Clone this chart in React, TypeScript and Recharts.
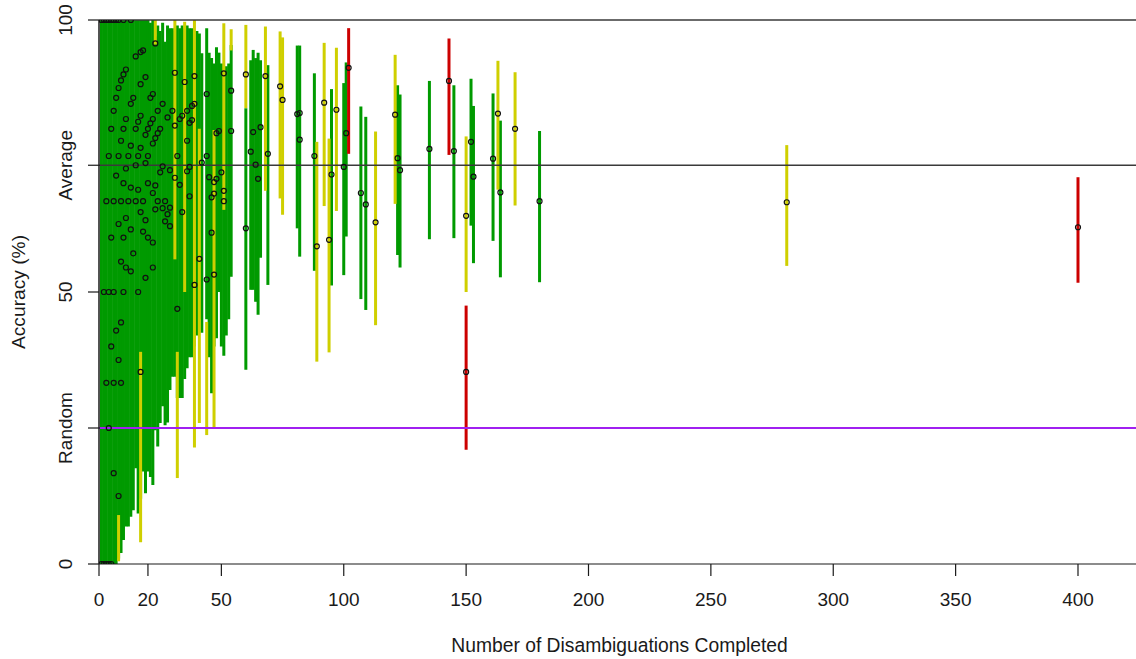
import React from 'react';
import { ComposedChart, Scatter, XAxis, YAxis, ErrorBar, ReferenceLine, Label } from 'recharts';

// ---------- axis / reference values ----------
const xTicks = [0, 20, 50, 100, 150, 200, 250, 300, 350, 400];
const xMax = 423.7;
const yTickValues = [0, 25, 50, 73.3, 100];
const yTickLabels = ['0', 'Random', '50', 'Average', '100'];
const topLevel = 100;
const averageLevel = 73.3;
const randomLevel = 25;

// ---------- confidence intervals: [disambiguations, low %, high %] ----------
const greenBarsDense: [number, number, number][] = [
  [1, 0, 100], [2, 0, 100], [3, 0, 100], [4, 0, 100], [5, 0, 100], [6, 0, 100], [7, 0, 100],
  [8, 1, 100], [9, 2, 100], [10, 4.4, 100], [11, 6.9, 100], [12, 6.9, 100], [13, 8.7, 100],
  [14, 9.9, 100], [15, 17.6, 100], [16, 9.3, 100], [17, 12, 100], [18, 17, 100], [19, 13, 100],
  [20, 17, 100], [21, 16, 99.5], [22, 14.5, 100], [23, 24.6, 97], [24, 21.6, 99], [25, 25.9, 98],
  [26, 29, 99.5], [27, 25.5, 96], [28, 26, 99], [29, 32, 98.5], [30, 34.4, 98.5], [31, 34.4, 98],
  [32, 30.5, 99], [33, 30.5, 98.5], [34, 30.5, 99], [35, 34, 98.5], [36, 36, 99], [37, 38, 98.5],
  [38, 38, 98.5], [39, 40, 98], [40, 42, 98], [41, 45, 97.5], [42, 42.5, 93.9], [44, 45, 98.5],
  [45, 38, 94], [46, 31.4, 93], [47, 40, 92], [48, 41.5, 95], [49, 50, 94], [50, 40, 92],
  [51, 38.3, 90], [52, 42, 91.5], [53, 45, 92], [54, 52.8, 95.4], [60, 35.7, 83.8],
  [62, 50.4, 92.6], [63, 50.4, 94.5], [64, 48.2, 93], [65, 45.8, 94], [66, 56.3, 92.6], [69, 51.3, 91.7],
];
const greenBarsSparse: [number, number, number][] = [
  [81, 61.7, 95.3], [82, 56.5, 95.3], [88, 53.9, 90.2], [95, 51.2, 87.3], [100, 53.1, 88.4],
  [101, 60.2, 92.2], [107, 48.7, 84.1], [109, 46.7, 82.2], [122, 56.8, 88], [123, 54.5, 86.3],
  [135, 59.7, 88.8], [145, 59.9, 88], [152, 62.2, 89.2], [153, 55.3, 84.2], [161, 59.4, 86.5],
  [164, 52.7, 81.5], [180, 51.8, 79.6],
];
const yellowBars: [number, number, number][] = [
  [8, 0.5, 9], [17, 4, 39], [23, 95.5, 100], [31, 56, 100], [32, 15.8, 39], [35, 50, 99.7],
  [39, 21.4, 100], [41, 25.9, 80], [44, 23.7, 44.5], [47, 25.2, 79.8], [51, 65.1, 99.4],
  [54, 94.4, 98.3], [60, 83.8, 99.1], [68, 68.6, 98.8], [74, 67.2, 97.9], [75, 64.2, 96.8],
  [89, 37.2, 77.6], [92, 65.8, 95.8], [94, 38.9, 78.2], [97, 64.9, 94.9], [113, 43.9, 79.5],
  [121, 66.2, 93.6], [150, 50, 78.6], [163, 68.8, 92.5], [170, 65.9, 90.4], [281, 54.8, 77],
];
const redBars: [number, number, number][] = [
  [102, 75.4, 98.5], [143, 75.2, 96.6], [150, 21, 47.5], [400, 51.7, 71.1],
];

// ---------- observed accuracies: [disambiguations, accuracy %] ----------
const pointsFew: [number, number][] = [
  [1, 0], [1, 100], [2, 0], [2, 50], [2, 100], [3, 0], [3, 33.3], [3, 66.7], [3, 100],
  [4, 0], [4, 25], [4, 50], [4, 75], [4, 100], [5, 0], [5, 40], [5, 60], [5, 80], [5, 100],
  [6, 16.7], [6, 33.3], [6, 50], [6, 66.7], [6, 83.3], [6, 100], [7, 42.9], [7, 71.4], [7, 85.7], [7, 100],
  [8, 12.5], [8, 37.5], [8, 62.5], [8, 75], [8, 87.5], [8, 100],
  [9, 33.3], [9, 44.4], [9, 55.6], [9, 66.7], [9, 77.8], [9, 88.9],
  [10, 50], [10, 60], [10, 70], [10, 80], [10, 90], [10, 100],
];
const pointsMid: [number, number][] = [
  [11, 54.5], [11, 63.6], [11, 72.7], [11, 81.8], [11, 90.9], [12, 66.7], [12, 75],
  [13, 53.8], [13, 61.5], [13, 69.2], [13, 76.9], [13, 84.6], [13, 100], [14, 57.1], [14, 85.7],
  [15, 66.7], [15, 73.3], [15, 80], [15, 93.3], [16, 50], [16, 68.8], [16, 75], [16, 81.3],
  [17, 35.3], [17, 64.7], [17, 76.5], [17, 82.4], [17, 88.2], [17, 94.1], [18, 61.1], [18, 66.7], [18, 94.4],
  [19, 52.6], [19, 63.2], [19, 73.7], [19, 78.9], [19, 89.5], [20, 60], [20, 70], [20, 75], [20, 80],
  [21, 81], [21, 85.7], [22, 54.5], [22, 59.1], [22, 68.2], [22, 77.3], [22, 81.8], [22, 86.4],
  [23, 65.2], [23, 69.6], [23, 78.3], [23, 95.7], [24, 66.7], [24, 79.2], [24, 83.3], [25, 72], [25, 80],
  [26, 65.4], [26, 73.1], [26, 84.6], [27, 63], [27, 66.7], [28, 64.3], [28, 82.1],
  [29, 62.1], [29, 65.5], [29, 72.4], [30, 83.3],
];
const pointsHigh: [number, number][] = [
  [31, 71], [31, 80.6], [31, 90.3], [32, 46.9], [32, 75], [33, 69.7], [33, 81.8], [34, 64.7], [34, 82.4],
  [35, 88.6], [36, 72.2], [36, 77.8], [36, 83.3], [37, 67.6], [37, 73], [37, 81.1], [38, 81.6], [38, 84.2],
  [39, 51.3], [39, 84.6], [39, 89.7], [41, 56.1], [42, 73.8], [44, 52.3], [44, 75], [44, 86.4],
  [45, 71.1], [46, 60.9], [46, 67.4], [47, 53.2], [47, 68.1], [47, 70.2], [48, 70.8], [48, 79.2],
  [49, 79.6], [50, 72], [51, 66.7], [51, 68.6], [51, 90.2], [54, 79.6], [54, 87], [60, 61.7], [60, 90],
  [62, 75.8], [63, 79.4], [64, 73.4], [65, 70.8], [66, 80.3], [68, 89.7], [69, 75.4],
];
const pointsSparse: [number, number][] = [
  [74, 87.8], [75, 85.3], [81, 82.7], [82, 82.9], [82, 78], [88, 75], [89, 58.4], [92, 84.8],
  [94, 59.6], [95, 71.6], [97, 83.5], [100, 73], [101, 79.2], [102, 91.2], [107, 68.2], [109, 66.1],
  [113, 62.8], [121, 82.6], [122, 74.6], [123, 72.4], [135, 76.3], [143, 88.8], [145, 75.9],
  [150, 64], [150, 35.3], [152, 77.6], [153, 71.2], [161, 74.5], [163, 82.8], [164, 68.3],
  [170, 80], [180, 66.7], [281, 66.5], [400, 61.9],
];

// ---------- styling ----------
const FONT = "'Liberation Sans', Arial, Helvetica, sans-serif";
const GREEN = '#009a00';
const YELLOW = '#cfcf00';
const RED = '#cc0000';
const PURPLE = '#a020f0';
const INK = '#1a1a1a';

const toBars = (rows: [number, number, number][]) =>
  rows.map(([n, lo, hi]) => ({ x: n, y: lo, err: [0, hi - lo] }));
const toPoints = (rows: [number, number][]) => rows.map(([n, acc]) => ({ x: n, y: acc }));

const allPoints = toPoints([...pointsFew, ...pointsMid, ...pointsHigh, ...pointsSparse]);

const XTick = (props: any) => {
  const { x, y, payload } = props;
  return (
    <g>
      <line x1={x} x2={x} y1={y} y2={y + 12} stroke={INK} strokeWidth={1.2} />
      <text x={x} y={y + 42} textAnchor="middle" fontFamily={FONT} fontSize={19} fill={INK}>
        {payload.value}
      </text>
    </g>
  );
};

const YTick = (props: any) => {
  const { x, y, payload } = props;
  const i = yTickValues.indexOf(payload.value);
  return (
    <g>
      <line x1={x - 11} x2={x} y1={y} y2={y} stroke={INK} strokeWidth={1.2} />
      <text
        transform={`translate(${x - 27},${y}) rotate(-90)`}
        textAnchor="middle"
        fontFamily={FONT}
        fontSize={19}
        fill={INK}
      >
        {yTickLabels[i]}
      </text>
    </g>
  );
};

const hidden = () => <g />;
const ring = (p: any) => (
  <circle cx={p.cx} cy={p.cy} r={2.5} fill="none" stroke="#111" strokeWidth={1.2} />
);

const barSeries = (rows: [number, number, number][], color: string, key: string) => (
  <Scatter key={key} data={toBars(rows)} dataKey="y" shape={hidden} isAnimationActive={false}>
    <ErrorBar dataKey="err" direction="y" width={0} stroke={color} strokeWidth={3} isAnimationActive={false} />
  </Scatter>
);

export default function App() {
  return (
    <div style={{ position: 'absolute', left: 0, top: 0, width: 1136, height: 659, background: '#fff' }}>
      <ComposedChart width={1136} height={659} margin={{ top: 20, right: 0, bottom: 0, left: 0 }}>
        <XAxis
          type="number"
          dataKey="x"
          domain={[0, xMax]}
          allowDataOverflow
          ticks={xTicks}
          interval={0}
          height={95}
          tickSize={0}
          tickMargin={0}
          tickLine={false}
          axisLine={{ stroke: INK, strokeWidth: 1.2 }}
          tick={<XTick />}
        >
          <Label
            content={(p: any) => {
              const vb = p.viewBox;
              return (
                <text x={vb.x + vb.width / 2 + 2} y={vb.y + 88} textAnchor="middle" fontFamily={FONT} fontSize={19.3} fill={INK}>
                  Number of Disambiguations Completed
                </text>
              );
            }}
          />
        </XAxis>
        <YAxis
          type="number"
          domain={[0, 100]}
          allowDataOverflow
          ticks={yTickValues}
          interval={0}
          width={99}
          tickSize={0}
          tickMargin={0}
          tickLine={false}
          axisLine={{ stroke: INK, strokeWidth: 1.5 }}
          tick={<YTick />}
        >
          <Label
            content={(p: any) => {
              const vb = p.viewBox;
              return (
                <text
                  transform={`translate(${vb.x + 25},${vb.y + vb.height / 2}) rotate(-90)`}
                  textAnchor="middle"
                  fontFamily={FONT}
                  fontSize={19.2}
                  fill={INK}
                >
                  Accuracy (%)
                </text>
              );
            }}
          />
        </YAxis>

        {barSeries(greenBarsDense, GREEN, 'gd')}
        {barSeries(greenBarsSparse, GREEN, 'gs')}
        {barSeries(yellowBars, YELLOW, 'y')}
        {barSeries(redBars, RED, 'r')}

        <ReferenceLine y={topLevel} stroke="#3a3a3a" strokeWidth={1.3} />
        <ReferenceLine y={averageLevel} stroke="#3a3a3a" strokeWidth={1.3} />
        <ReferenceLine y={randomLevel} stroke={PURPLE} strokeWidth={1.2} shapeRendering="crispEdges" />

        <Scatter data={allPoints} dataKey="y" shape={ring} isAnimationActive={false} />
      </ComposedChart>
    </div>
  );
}
